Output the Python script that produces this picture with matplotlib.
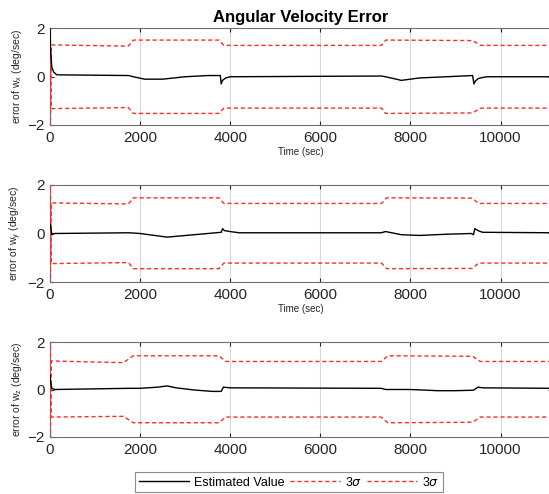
import matplotlib
matplotlib.use("Agg")
import matplotlib.pyplot as plt
from matplotlib.lines import Line2D

plt.rcParams['font.family'] = ['Liberation Sans', 'DejaVu Sans']

# x range shown in the figure
t_max = 11150
x_ticks = [0, 2000, 4000, 6000, 8000, 10000]

# estimated angular velocity error (deg/sec), knots
est_t_x = [0, 10, 40, 80, 150, 1750, 1850, 2100, 2500, 3000, 3500, 3780, 3800,
           3830, 3900, 4000, 7350, 7450, 7800, 8200, 8800, 9380, 9410, 9440,
           9500, 9600, 9700, t_max]
est_v_x = [2.0, 1.2, 0.4, 0.2, 0.08, 0.05, 0.0, -0.1, -0.1, 0.0, 0.05, 0.05, -0.3,
           -0.15, -0.05, 0.0, 0.03, 0.0, -0.15, -0.05, 0.0, 0.05, -0.3, -0.18,
           -0.08, -0.03, 0.0, 0.0]

est_t_y = [0, 15, 40, 100, 1750, 2000, 2600, 3200, 3800, 3830, 3870, 4000, 4200,
           7350, 7450, 7800, 8200, 8800, 9350, 9400, 9430, 9500, 9600, t_max]
est_v_y = [0.4, 0.3, -0.05, 0.0, 0.03, 0.0, -0.15, -0.05, 0.05, 0.2, 0.12, 0.08,
           0.03, 0.03, 0.08, -0.05, -0.08, -0.03, 0.0, -0.05, 0.2, 0.12, 0.05, 0.03]

est_t_z = [0, 15, 40, 100, 1750, 2000, 2400, 2600, 2800, 3200, 3600, 3800, 3850,
           4000, 7350, 7450, 8000, 8600, 9000, 9400, 9500, 9600, t_max]
est_v_z = [0.6, 0.3, 0.05, 0.0, 0.05, 0.05, 0.1, 0.15, 0.07, -0.02, -0.08, -0.08,
           0.1, 0.07, 0.05, 0.0, 0.0, -0.05, -0.05, -0.03, 0.1, 0.07, 0.05]

# 3 sigma bounds (upper / lower), knots
# (first sample sweeps the whole axis height at t = 0)
sig_t_x = [0, 30, 1740, 1850, 3750, 3860, 7360, 7450, 9380, 9560, t_max]
sig_up_x = [-3.0, 1.32, 1.27, 1.52, 1.52, 1.3, 1.3, 1.52, 1.5, 1.3, 1.3]
sig_lo_x = [3.0, -1.32, -1.28, -1.52, -1.52, -1.3, -1.3, -1.52, -1.5, -1.3, -1.3]

sig_t_y = [0, 30, 1740, 1850, 3750, 3860, 7360, 7470, 9370, 9515, t_max]
sig_up_y = [-3.0, 1.26, 1.22, 1.47, 1.47, 1.24, 1.24, 1.47, 1.46, 1.24, 1.24]
sig_lo_y = [3.0, -1.24, -1.2, -1.45, -1.45, -1.22, -1.22, -1.45, -1.44, -1.22, -1.22]

sig_t_z = [0, 30, 1630, 1850, 3750, 3900, 7350, 7500, 9380, 9550, t_max]
sig_up_z = [-3.0, 1.2, 1.13, 1.42, 1.42, 1.18, 1.18, 1.42, 1.4, 1.18, 1.18]
sig_lo_z = [3.0, -1.16, -1.13, -1.4, -1.4, -1.16, -1.16, -1.4, -1.38, -1.16, -1.16]

panels = [
    ('x', est_t_x, est_v_x, sig_t_x, sig_up_x, sig_lo_x),
    ('y', est_t_y, est_v_y, sig_t_y, sig_up_y, sig_lo_y),
    ('z', est_t_z, est_v_z, sig_t_z, sig_up_z, sig_lo_z),
]

red = '#ff2a2a'
dash = (0, (3, 2))

fig = plt.figure(figsize=(5.49, 4.94), dpi=100)

# axes boxes in pixels: (top, bottom)
boxes = [(28.5, 125), (185, 282), (342, 437)]
W, H = 549.0, 494.0
axes = []
for (top, bot), (name, et, ev, st, su, sl) in zip(boxes, panels):
    ax = fig.add_axes([50 / W, 1 - bot / H, 0.915, (bot - top) / H])
    ax.plot(st, su, color=red, lw=1.0, linestyle=dash, zorder=3)
    ax.plot(st, sl, color=red, lw=1.0, linestyle=dash, zorder=3)
    ax.plot(et, ev, color='k', lw=1.0, zorder=4)
    ax.set_xlim(0, t_max)
    ax.set_ylim(-2, 2)
    ax.set_xticks(x_ticks)
    ax.set_yticks([-2, 0, 2])
    ax.tick_params(direction='in', top=True, right=True, length=3,
                   labelsize=11, colors='#262626', pad=4)
    ax.grid(axis='x', color='#d8d8d8', lw=0.8)
    for s in ax.spines.values():
        s.set_color('#6e6e6e')
    ax.set_ylabel('error of w$_\\mathregular{%s}$ (deg/sec)' % name,
                  fontsize=7.5, color='#262626', labelpad=2)
    axes.append(ax)

axes[0].set_title('Angular Velocity Error', fontsize=12, fontweight='bold', pad=5)
axes[0].set_xlabel('Time (sec)', fontsize=7, color='#262626', labelpad=2)
axes[1].set_xlabel('Time (sec)', fontsize=7, color='#262626', labelpad=2)

handles = [
    Line2D([], [], color='k', lw=1.0),
    Line2D([], [], color=red, lw=1.0, linestyle=dash),
    Line2D([], [], color=red, lw=1.0, linestyle=dash),
]
leg = fig.legend(handles, ['Estimated Value', '3$\\sigma$', '3$\\sigma$'],
                 loc='center', bbox_to_anchor=(289 / W, 1 - 482 / H), ncol=3,
                 fontsize=9, frameon=True, fancybox=False, handlelength=4.0,
                 handletextpad=0.4, columnspacing=0.4, borderpad=0.3,
                 borderaxespad=0)
leg.get_frame().set_edgecolor('#6e6e6e')
leg.get_frame().set_linewidth(0.8)

fig.savefig('out.png', dpi=100)
